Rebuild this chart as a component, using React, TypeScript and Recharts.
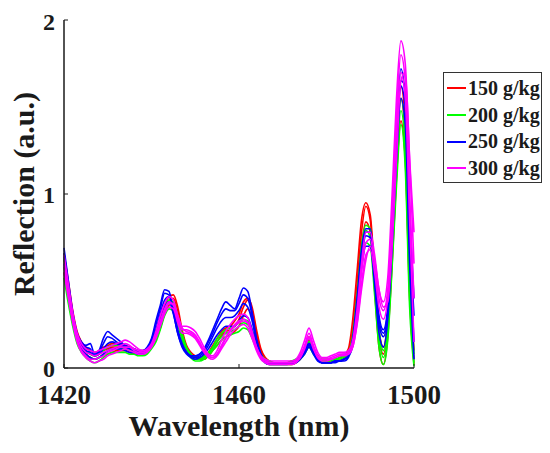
import { LineChart, Line, XAxis, YAxis } from "recharts";

const wavelengths = [
  1420, 1421, 1422, 1423, 1424, 1425, 1426, 1427, 1428, 1429,
  1430, 1431, 1432, 1433, 1434, 1435, 1436, 1437, 1438, 1439,
  1440, 1441, 1442, 1443, 1444, 1445, 1446, 1447, 1448, 1449,
  1450, 1451, 1452, 1453, 1454, 1455, 1456, 1457, 1458, 1459,
  1460, 1461, 1462, 1463, 1464, 1465, 1466, 1467, 1468, 1469,
  1470, 1471, 1472, 1473, 1474, 1475, 1476, 1477, 1478, 1479,
  1480, 1481, 1482, 1483, 1484, 1485, 1486, 1487, 1488, 1489,
  1490, 1491, 1492, 1493, 1494, 1495, 1496, 1497, 1498, 1499,
  1500,
];

// 150 g/kg
const red1 = [
  0.62, 0.45, 0.30, 0.19, 0.13, 0.10, 0.08, 0.07, 0.08, 0.10,
  0.11, 0.12, 0.12, 0.12, 0.12, 0.11, 0.10, 0.09, 0.09, 0.10,
  0.13, 0.18, 0.26, 0.34, 0.39, 0.40, 0.32, 0.20, 0.12, 0.08,
  0.06, 0.05, 0.06, 0.08, 0.11, 0.15, 0.19, 0.21, 0.22, 0.24,
  0.28, 0.35, 0.39, 0.33, 0.20, 0.10, 0.05, 0.03, 0.03, 0.03,
  0.03, 0.03, 0.03, 0.04, 0.06, 0.11, 0.16, 0.11, 0.06, 0.04,
  0.04, 0.04, 0.05, 0.05, 0.06, 0.09, 0.22, 0.48, 0.78, 0.93,
  0.85, 0.50, 0.18, 0.08, 0.25, 0.70, 1.20, 1.55, 1.30, 0.50,
  0.05,
];
const red2 = [
  0.55, 0.40, 0.26, 0.16, 0.11, 0.08, 0.06, 0.05, 0.06, 0.07,
  0.08, 0.09, 0.10, 0.10, 0.10, 0.09, 0.08, 0.08, 0.08, 0.09,
  0.12, 0.16, 0.23, 0.31, 0.36, 0.38, 0.31, 0.19, 0.11, 0.07,
  0.05, 0.05, 0.05, 0.07, 0.10, 0.13, 0.16, 0.18, 0.19, 0.21,
  0.24, 0.30, 0.34, 0.29, 0.18, 0.09, 0.04, 0.02, 0.02, 0.02,
  0.02, 0.02, 0.02, 0.03, 0.05, 0.09, 0.13, 0.09, 0.05, 0.03,
  0.03, 0.03, 0.04, 0.04, 0.05, 0.08, 0.18, 0.42, 0.70, 0.84,
  0.78, 0.45, 0.12, 0.02, 0.18, 0.60, 1.10, 1.42, 1.20, 0.40,
  0.02,
];
const red3 = [
  0.66, 0.50, 0.33, 0.21, 0.15, 0.12, 0.10, 0.09, 0.10, 0.12,
  0.13, 0.14, 0.14, 0.14, 0.13, 0.12, 0.11, 0.10, 0.10, 0.11,
  0.14, 0.20, 0.28, 0.36, 0.41, 0.42, 0.35, 0.22, 0.13, 0.09,
  0.07, 0.06, 0.07, 0.09, 0.13, 0.17, 0.21, 0.23, 0.24, 0.27,
  0.31, 0.38, 0.40, 0.35, 0.22, 0.11, 0.06, 0.04, 0.03, 0.03,
  0.03, 0.03, 0.04, 0.04, 0.07, 0.12, 0.18, 0.12, 0.07, 0.05,
  0.05, 0.05, 0.05, 0.06, 0.07, 0.11, 0.28, 0.56, 0.85, 0.95,
  0.88, 0.55, 0.22, 0.12, 0.30, 0.78, 1.30, 1.62, 1.40, 0.62,
  0.10,
];

// 200 g/kg
const green1 = [
  0.58, 0.42, 0.28, 0.17, 0.11, 0.08, 0.06, 0.05, 0.06, 0.08,
  0.10, 0.11, 0.11, 0.11, 0.11, 0.10, 0.09, 0.08, 0.08, 0.09,
  0.12, 0.17, 0.25, 0.33, 0.37, 0.36, 0.28, 0.18, 0.11, 0.07,
  0.05, 0.05, 0.06, 0.08, 0.11, 0.15, 0.18, 0.20, 0.21, 0.22,
  0.24, 0.26, 0.25, 0.20, 0.13, 0.07, 0.04, 0.03, 0.03, 0.03,
  0.03, 0.03, 0.03, 0.04, 0.06, 0.10, 0.15, 0.10, 0.06, 0.04,
  0.04, 0.04, 0.05, 0.05, 0.06, 0.08, 0.16, 0.38, 0.65, 0.79,
  0.75, 0.48, 0.18, 0.06, 0.22, 0.66, 1.15, 1.48, 1.25, 0.45,
  0.03,
];
const green2 = [
  0.52, 0.37, 0.24, 0.14, 0.09, 0.06, 0.04, 0.03, 0.04, 0.06,
  0.08, 0.09, 0.09, 0.09, 0.09, 0.08, 0.08, 0.07, 0.07, 0.08,
  0.11, 0.15, 0.22, 0.30, 0.34, 0.33, 0.25, 0.16, 0.09, 0.06,
  0.04, 0.04, 0.05, 0.07, 0.10, 0.13, 0.16, 0.18, 0.19, 0.20,
  0.21, 0.23, 0.22, 0.17, 0.11, 0.06, 0.03, 0.02, 0.02, 0.02,
  0.02, 0.02, 0.02, 0.03, 0.05, 0.08, 0.12, 0.08, 0.05, 0.03,
  0.03, 0.03, 0.04, 0.04, 0.05, 0.07, 0.13, 0.32, 0.58, 0.72,
  0.70, 0.42, 0.12, 0.02, 0.16, 0.58, 1.05, 1.40, 1.15, 0.35,
  0.01,
];
const green3 = [
  0.63, 0.46, 0.31, 0.19, 0.13, 0.10, 0.08, 0.07, 0.08, 0.10,
  0.12, 0.13, 0.13, 0.13, 0.12, 0.11, 0.10, 0.09, 0.09, 0.10,
  0.13, 0.19, 0.27, 0.35, 0.39, 0.38, 0.30, 0.20, 0.12, 0.08,
  0.06, 0.06, 0.07, 0.09, 0.12, 0.17, 0.20, 0.22, 0.23, 0.24,
  0.26, 0.28, 0.27, 0.22, 0.14, 0.08, 0.05, 0.04, 0.03, 0.03,
  0.03, 0.03, 0.04, 0.05, 0.07, 0.11, 0.17, 0.11, 0.07, 0.05,
  0.05, 0.05, 0.05, 0.06, 0.07, 0.09, 0.19, 0.42, 0.70, 0.82,
  0.80, 0.52, 0.22, 0.10, 0.28, 0.74, 1.25, 1.55, 1.35, 0.55,
  0.08,
];

// 250 g/kg
const blue1 = [
  0.69, 0.50, 0.32, 0.20, 0.15, 0.13, 0.14, 0.08, 0.10, 0.17,
  0.21, 0.19, 0.17, 0.15, 0.13, 0.12, 0.11, 0.10, 0.10, 0.12,
  0.17, 0.27, 0.36, 0.45, 0.44, 0.32, 0.20, 0.13, 0.09, 0.07,
  0.07, 0.08, 0.11, 0.16, 0.22, 0.28, 0.34, 0.38, 0.36, 0.34,
  0.40, 0.46, 0.44, 0.32, 0.17, 0.08, 0.04, 0.03, 0.03, 0.03,
  0.03, 0.03, 0.03, 0.04, 0.06, 0.10, 0.14, 0.10, 0.05, 0.03,
  0.03, 0.03, 0.04, 0.04, 0.05, 0.07, 0.17, 0.40, 0.68, 0.80,
  0.80, 0.58, 0.30, 0.22, 0.35, 0.80, 1.35, 1.72, 1.55, 0.70,
  0.15,
];
const blue2 = [
  0.64, 0.46, 0.30, 0.18, 0.13, 0.10, 0.09, 0.07, 0.08, 0.11,
  0.14, 0.15, 0.14, 0.13, 0.12, 0.11, 0.10, 0.09, 0.09, 0.11,
  0.15, 0.22, 0.31, 0.39, 0.41, 0.34, 0.22, 0.14, 0.09, 0.07,
  0.06, 0.07, 0.09, 0.13, 0.18, 0.23, 0.27, 0.29, 0.29, 0.30,
  0.33, 0.37, 0.35, 0.27, 0.15, 0.07, 0.04, 0.03, 0.03, 0.03,
  0.03, 0.03, 0.03, 0.04, 0.06, 0.09, 0.13, 0.09, 0.05, 0.03,
  0.03, 0.03, 0.04, 0.04, 0.05, 0.07, 0.15, 0.36, 0.62, 0.76,
  0.75, 0.52, 0.25, 0.18, 0.32, 0.75, 1.28, 1.62, 1.50, 0.80,
  0.30,
];
const blue3 = [
  0.60, 0.43, 0.27, 0.16, 0.11, 0.08, 0.06, 0.05, 0.06, 0.08,
  0.10, 0.11, 0.11, 0.11, 0.10, 0.09, 0.09, 0.08, 0.08, 0.10,
  0.13, 0.19, 0.27, 0.35, 0.38, 0.31, 0.20, 0.12, 0.08, 0.06,
  0.05, 0.06, 0.08, 0.11, 0.15, 0.19, 0.22, 0.24, 0.24, 0.24,
  0.27, 0.30, 0.29, 0.22, 0.12, 0.06, 0.03, 0.02, 0.02, 0.02,
  0.02, 0.02, 0.03, 0.03, 0.05, 0.08, 0.12, 0.08, 0.04, 0.03,
  0.03, 0.03, 0.03, 0.04, 0.04, 0.06, 0.13, 0.32, 0.57, 0.70,
  0.70, 0.48, 0.20, 0.12, 0.28, 0.70, 1.20, 1.55, 1.40, 0.60,
  0.05,
];
const blue4 = [
  0.66, 0.48, 0.31, 0.19, 0.14, 0.12, 0.11, 0.07, 0.09, 0.14,
  0.18, 0.17, 0.15, 0.14, 0.12, 0.11, 0.10, 0.09, 0.09, 0.11,
  0.16, 0.25, 0.34, 0.43, 0.42, 0.33, 0.21, 0.13, 0.09, 0.07,
  0.07, 0.08, 0.10, 0.15, 0.20, 0.26, 0.31, 0.34, 0.33, 0.33,
  0.37, 0.42, 0.40, 0.30, 0.16, 0.08, 0.04, 0.03, 0.03, 0.03,
  0.03, 0.03, 0.03, 0.04, 0.06, 0.10, 0.14, 0.09, 0.05, 0.03,
  0.03, 0.03, 0.04, 0.04, 0.05, 0.07, 0.16, 0.38, 0.65, 0.78,
  0.78, 0.55, 0.28, 0.20, 0.33, 0.76, 1.30, 1.65, 1.62, 0.90,
  0.40,
];

// 300 g/kg
const magenta1 = [
  0.60, 0.44, 0.29, 0.18, 0.12, 0.09, 0.08, 0.07, 0.08, 0.09,
  0.10, 0.11, 0.12, 0.13, 0.14, 0.13, 0.11, 0.10, 0.09, 0.10,
  0.13, 0.19, 0.27, 0.34, 0.38, 0.36, 0.28, 0.22, 0.22, 0.21,
  0.19, 0.15, 0.10, 0.07, 0.06, 0.08, 0.13, 0.18, 0.22, 0.25,
  0.27, 0.28, 0.26, 0.19, 0.11, 0.06, 0.04, 0.03, 0.03, 0.03,
  0.03, 0.03, 0.03, 0.04, 0.07, 0.13, 0.20, 0.13, 0.07, 0.05,
  0.05, 0.06, 0.07, 0.08, 0.08, 0.09, 0.14, 0.30, 0.55, 0.72,
  0.74, 0.60, 0.40, 0.33, 0.45, 0.90, 1.45, 1.80, 1.65, 1.00,
  0.40,
];
const magenta2 = [
  0.65, 0.48, 0.32, 0.20, 0.14, 0.11, 0.10, 0.09, 0.10, 0.11,
  0.12, 0.13, 0.14, 0.15, 0.16, 0.15, 0.13, 0.11, 0.10, 0.11,
  0.14, 0.21, 0.30, 0.37, 0.41, 0.39, 0.30, 0.24, 0.24, 0.23,
  0.21, 0.17, 0.12, 0.08, 0.07, 0.10, 0.16, 0.21, 0.25, 0.28,
  0.30, 0.31, 0.29, 0.21, 0.12, 0.07, 0.05, 0.04, 0.04, 0.04,
  0.04, 0.04, 0.04, 0.05, 0.09, 0.16, 0.23, 0.16, 0.09, 0.06,
  0.06, 0.07, 0.08, 0.09, 0.09, 0.10, 0.16, 0.34, 0.60, 0.78,
  0.78, 0.65, 0.45, 0.38, 0.52, 1.00, 1.55, 1.88, 1.75, 1.20,
  0.78,
];
const magenta3 = [
  0.55, 0.40, 0.26, 0.15, 0.09, 0.06, 0.04, 0.03, 0.04, 0.05,
  0.07, 0.08, 0.09, 0.10, 0.11, 0.10, 0.09, 0.08, 0.08, 0.09,
  0.12, 0.17, 0.24, 0.31, 0.35, 0.34, 0.26, 0.20, 0.20, 0.19,
  0.17, 0.13, 0.09, 0.06, 0.05, 0.07, 0.11, 0.15, 0.19, 0.22,
  0.24, 0.25, 0.23, 0.17, 0.10, 0.05, 0.03, 0.02, 0.02, 0.02,
  0.02, 0.02, 0.02, 0.03, 0.06, 0.11, 0.17, 0.11, 0.06, 0.04,
  0.04, 0.05, 0.06, 0.07, 0.07, 0.08, 0.12, 0.26, 0.48, 0.65,
  0.68, 0.55, 0.35, 0.28, 0.40, 0.82, 1.35, 1.70, 1.55, 0.85,
  0.15,
];
const magenta4 = [
  0.58, 0.42, 0.27, 0.16, 0.10, 0.07, 0.05, 0.05, 0.06, 0.07,
  0.09, 0.10, 0.11, 0.12, 0.12, 0.12, 0.10, 0.09, 0.09, 0.10,
  0.12, 0.18, 0.25, 0.33, 0.37, 0.37, 0.30, 0.23, 0.21, 0.20,
  0.18, 0.14, 0.10, 0.07, 0.06, 0.08, 0.12, 0.17, 0.21, 0.24,
  0.26, 0.27, 0.26, 0.20, 0.12, 0.06, 0.04, 0.03, 0.03, 0.03,
  0.03, 0.03, 0.03, 0.04, 0.06, 0.12, 0.18, 0.12, 0.06, 0.05,
  0.05, 0.05, 0.06, 0.07, 0.08, 0.08, 0.12, 0.25, 0.45, 0.62,
  0.70, 0.62, 0.45, 0.35, 0.38, 0.70, 1.20, 1.65, 1.70, 1.20,
  0.60,
];

const groupNames = ["150 g/kg", "200 g/kg", "250 g/kg", "300 g/kg"];
const groupColors = ["#ff0000", "#00ff00", "#0000ff", "#ff00ff"];
const groupCurves = [
  [red1, red2, red3],
  [green1, green2, green3],
  [blue1, blue2, blue3, blue4],
  [magenta1, magenta2, magenta3, magenta4],
];

const xTicks = [1420, 1460, 1500];
const yTicks = [0, 1, 2];

const series = groupCurves.flatMap((curves, g) =>
  curves.map((values, k) => ({ key: `g${g}_${k}`, color: groupColors[g], values }))
);

const data = wavelengths.map((w, i) => {
  const row: Record<string, number> = { w };
  series.forEach((s) => {
    row[s.key] = s.values[i];
  });
  return row;
});

const font = "'Liberation Serif', 'Times New Roman', serif";
const xTickStyle = { fontFamily: font, fontWeight: 700, fontSize: 27, fill: "#1a1a1a" };
const yTickStyle = { fontFamily: font, fontWeight: 700, fontSize: 24, fill: "#1a1a1a" };

const LegendBox = () => (
  <div
    style={{
      position: "absolute",
      left: 435,
      top: 64,
      boxSizing: "border-box",
      width: 99,
      height: 111,
      border: "1.5px solid #333",
      background: "#fff",
      paddingTop: 2,
    }}
  >
    {groupNames.map((name, i) => (
      <div key={name} style={{ display: "flex", alignItems: "center", height: 26.7 }}>
        <div style={{ width: 19, height: 2, marginLeft: 3, background: groupColors[i] }} />
        <span
          style={{
            marginLeft: 2,
            fontFamily: font,
            fontWeight: 700,
            fontSize: 20,
            color: "#1a1a1a",
            whiteSpace: "nowrap",
          }}
        >
          {name}
        </span>
      </div>
    ))}
  </div>
);

const App = () => {
  return (
    <div style={{ position: "relative", width: 542, height: 445 }}>
      <LineChart width={542} height={445} data={data} margin={{ top: 12, right: 136, bottom: 0, left: 0 }}>
        <XAxis
          dataKey="w"
          type="number"
          domain={[1420, 1500]}
          ticks={xTicks}
          height={85}
          tick={xTickStyle}
          tickSize={-4}
          tickMargin={21}
          axisLine={{ stroke: "#1a1a1a", strokeWidth: 1.5 }}
          tickLine={{ stroke: "#1a1a1a" }}
          label={(props: any) => {
            const vb = props.viewBox;
            return (
              <text
                x={vb.x + vb.width / 2}
                y={vb.y + 68}
                textAnchor="middle"
                style={{ fontFamily: font, fontWeight: 700, fontSize: 30, fill: "#1a1a1a" }}
              >
                Wavelength (nm)
              </text>
            );
          }}
        />
        <YAxis
          type="number"
          domain={[0, 2]}
          ticks={yTicks}
          width={56}
          tick={yTickStyle}
          tickSize={-4}
          tickMargin={13}
          axisLine={{ stroke: "#1a1a1a", strokeWidth: 1.5 }}
          tickLine={{ stroke: "#1a1a1a" }}
          label={(props: any) => {
            const vb = props.viewBox;
            const cy = vb.y + vb.height / 2;
            return (
              <text
                x={26}
                y={cy}
                textAnchor="middle"
                transform={`rotate(-90, 26, ${cy})`}
                style={{ fontFamily: font, fontWeight: 700, fontSize: 30, fill: "#1a1a1a" }}
              >
                Reflection (a.u.)
              </text>
            );
          }}
        />
        {series.map((s) => (
          <Line
            key={s.key}
            dataKey={s.key}
            type="monotone"
            stroke={s.color}
            strokeWidth={1.6}
            dot={false}
            activeDot={false}
            legendType="none"
            isAnimationActive={false}
          />
        ))}
      </LineChart>
      <LegendBox />
    </div>
  );
};

export default App;
